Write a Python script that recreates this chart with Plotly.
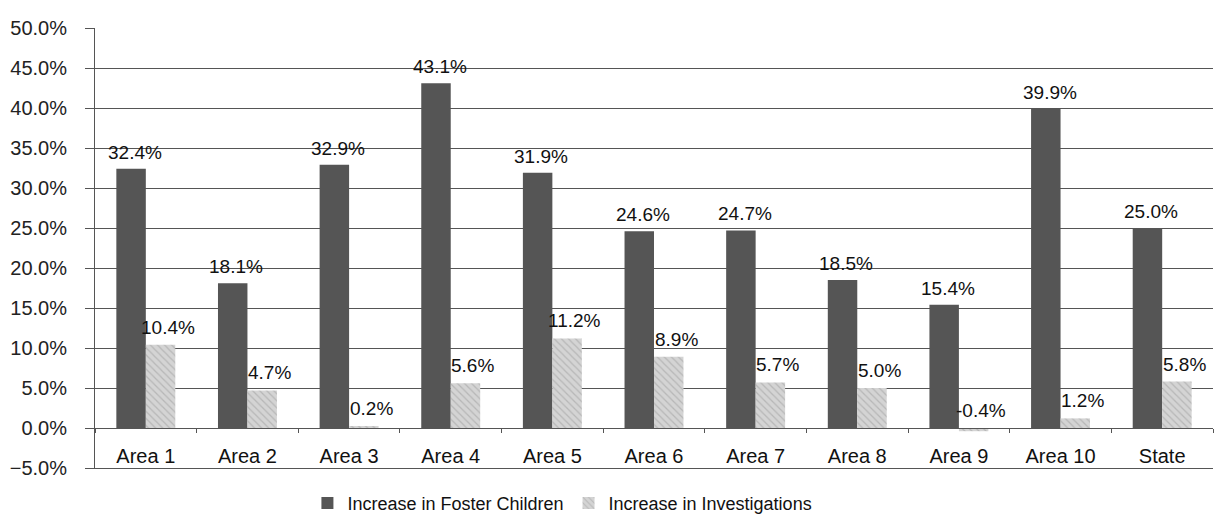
import plotly.graph_objects as go

categories = ["Area 1", "Area 2", "Area 3", "Area 4", "Area 5", "Area 6",
              "Area 7", "Area 8", "Area 9", "Area 10", "State"]
foster = [32.4, 18.1, 32.9, 43.1, 31.9, 24.6, 24.7, 18.5, 15.4, 39.9, 25.0]
investigations = [10.4, 4.7, 0.2, 5.6, 11.2, 8.9, 5.7, 5.0, -0.4, 1.2, 5.8]
series_names = ["Increase in Foster Children", "Increase in Investigations"]

FONT = "Liberation Sans, Arial, sans-serif"

fig = go.Figure()
fig.add_trace(go.Bar(
    x=categories, y=foster, name=series_names[0],
    marker=dict(color="#555555", line=dict(width=0)),
))
fig.add_trace(go.Bar(
    x=categories, y=investigations, name=series_names[1],
    marker=dict(color="#cfcfcf", line=dict(width=0),
                pattern=dict(shape="\\", fgcolor="#9a9a9a", bgcolor="#d4d4d4",
                             size=5, solidity=0.25)),
))
# invisible trace to carry a second x axis whose line closes the plot at the bottom
fig.add_trace(go.Scatter(x=categories, y=[None] * len(categories), xaxis="x2",
                         showlegend=False, hoverinfo="skip"))

annotations = []
for cat, v in zip(categories, foster):
    annotations.append(dict(x=cat, y=max(v, 0), xref="x", yref="y",
                            text=f"{v:.1f}%", showarrow=False, yanchor="bottom",
                            xshift=-11, yshift=4,
                            font=dict(family=FONT, size=19, color="#111111")))
for cat, v in zip(categories, investigations):
    annotations.append(dict(x=cat, y=max(v, 0), xref="x", yref="y",
                            text=f"{v:.1f}%", showarrow=False, yanchor="bottom",
                            xshift=22, yshift=5,
                            font=dict(family=FONT, size=19, color="#111111")))

fig.update_layout(
    width=1214, height=514,
    margin=dict(l=95, r=1, t=28, b=46, autoexpand=False),
    paper_bgcolor="white", plot_bgcolor="white",
    barmode="group", bargap=0.42, bargroupgap=0,
    font=dict(family=FONT, color="#111111"),
    annotations=annotations,
    showlegend=True,
    legend=dict(orientation="h", x=0.19, xanchor="left", y=-0.08, yanchor="middle",
                font=dict(family=FONT, size=18, color="#111111"),
                bgcolor="rgba(0,0,0,0)"),
    xaxis=dict(
        type="category", anchor="free", position=40 / 440,
        showline=True, linecolor="#555555", linewidth=1,
        ticks="outside", ticklen=4, tickcolor="#555555", tickson="boundaries",
        showgrid=False, ticklabelstandoff=10,
        tickfont=dict(family=FONT, size=20, color="#111111"),
        range=[-0.5, 10.5],
    ),
    xaxis2=dict(
        type="category", overlaying="x", anchor="y", side="bottom",
        showline=True, linecolor="#555555", linewidth=1,
        showticklabels=False, ticks="", showgrid=False,
        range=[-0.5, 10.5],
    ),
    yaxis=dict(
        range=[-5, 50], dtick=5, tick0=0, tickformat=".1f", ticksuffix="%",
        showgrid=True, gridcolor="#555555", gridwidth=1,
        zeroline=False,
        showline=True, linecolor="#555555", linewidth=1,
        ticks="outside", ticklen=9, tickcolor="#555555",
        ticklabelstandoff=14,
        tickfont=dict(family=FONT, size=20, color="#222222"),
    ),
)

fig.write_html("out.html")
